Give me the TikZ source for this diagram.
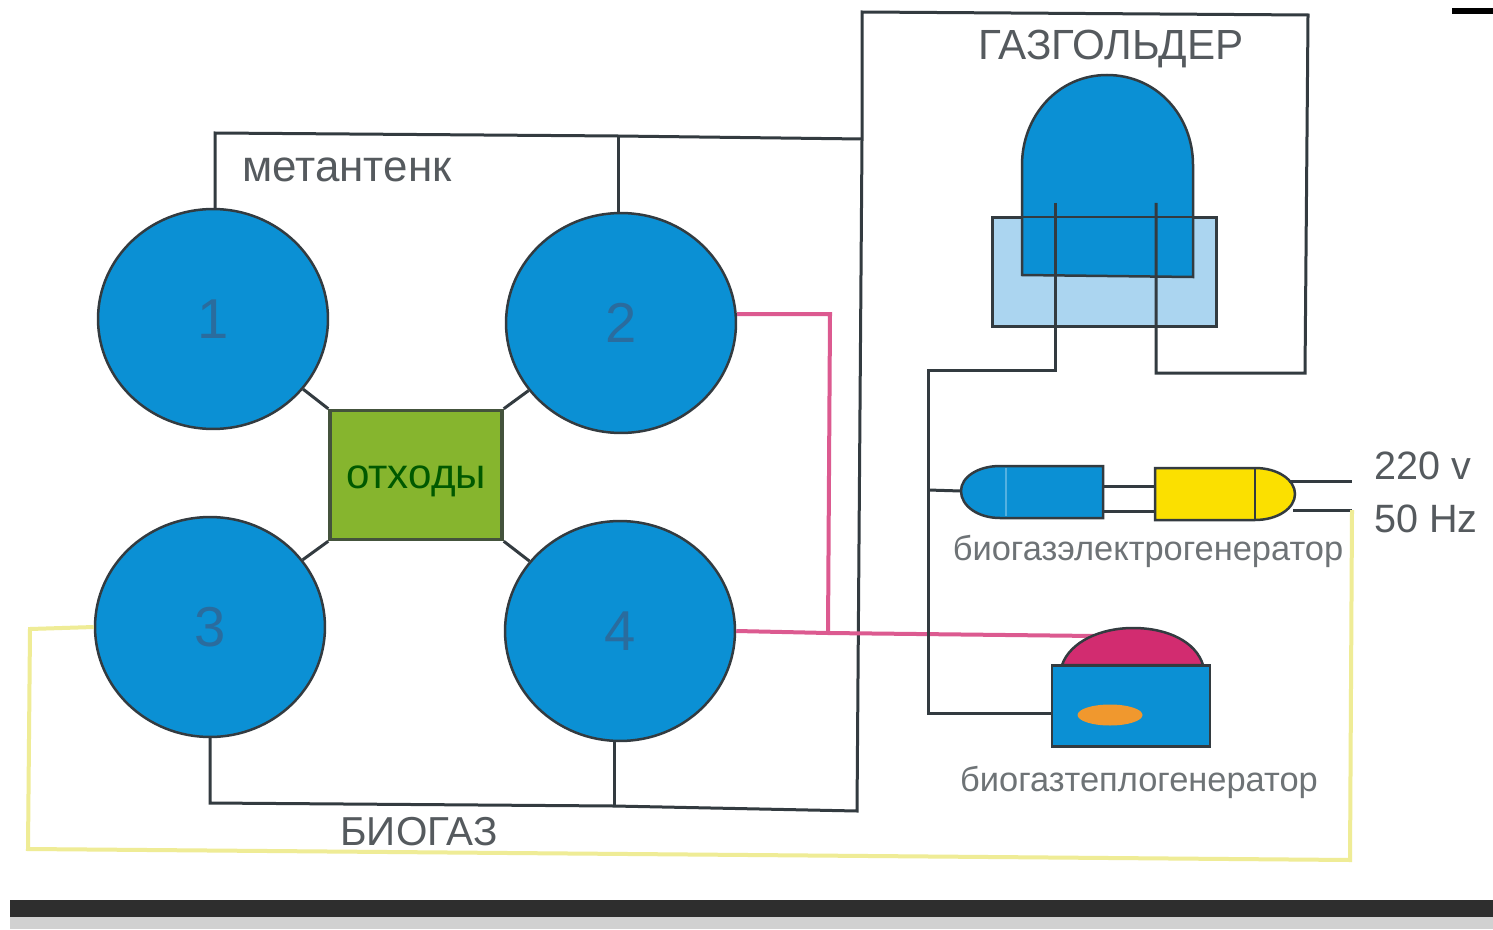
\documentclass[tikz,border=0pt]{standalone}
\usepackage{fontspec}
\setmainfont{Liberation Sans}
\usepackage{xcolor}
\usetikzlibrary{shapes.geometric}
\definecolor{tankblue}{HTML}{0B90D4}
\definecolor{waterblue}{HTML}{ABD5F0}
\definecolor{wastegreen}{HTML}{86B52E}
\definecolor{pipegray}{HTML}{333B40}
\definecolor{heatpink}{HTML}{DC5A90}
\definecolor{domepink}{HTML}{D22C70}
\definecolor{powerline}{HTML}{EFEC96}
\definecolor{genyellow}{HTML}{FBE000}
\definecolor{flameorange}{HTML}{F0982E}
\definecolor{labgray}{HTML}{555A5E}
\definecolor{numblue}{HTML}{2A6C9E}

\begin{document}
\begin{tikzpicture}[
  x=0.02cm, y=-0.02cm,
  pipe/.style={draw=pipegray, line width=0.6mm, line join=miter},
  heat/.style={draw=heatpink, line width=0.8mm, line join=miter},
  power/.style={draw=powerline, line width=0.8mm, line join=miter},
  part/.style={draw=pipegray, line width=0.5mm, fill=tankblue},
  tank/.style={ellipse, part, inner sep=0pt, minimum width=4.6cm, minimum height=4.4cm,
    text=numblue, font=\fontsize{32}{36}\selectfont},
  lab/.style={text=labgray, inner sep=0pt, font=\fontsize{23}{26}\selectfont},
  smalllab/.style={text=labgray!85, inner sep=0pt, font=\fontsize{19.6}{22}\selectfont}
]

% ===== BACKGROUND =====
\path[fill=white] (0,0) rectangle (1493,929);
\fill[black!18] (10,915) rectangle (1493,929);
\fill[black!82] (10,900) rectangle (1493,917);
\fill[black] (1452,8) rectangle (1493,14);

% ===== GASHOLDER =====
\node[draw=pipegray, line width=0.5mm, fill=waterblue, minimum width=4.46cm, minimum height=2.16cm,
  inner sep=0pt] (water) at (1104.5,272) {};
\draw[part] (1022,275) -- (1022,165) .. controls (1022,116) and (1058,75) .. (1107,75)
  .. controls (1157,75) and (1193,116) .. (1193,165) -- (1193,277) -- cycle;
\draw[draw=pipegray, line width=0.5mm] (water.north west) rectangle (water.south east);
\node[lab, font=\fontsize{24}{26}\selectfont] (holder_lab) at (1111,49) {ГАЗГОЛЬДЕР};

% ===== TANKS =====
\node[tank] (tank1) at (213,319) {1};
\node[tank] (tank2) at (621,323) {2};
\node[tank] (tank3) at (210,627) {3};
\node[tank] (tank4) at (620,631) {4};
\node[draw=pipegray!80!wastegreen, line width=0.7mm, fill=wastegreen, inner sep=0pt,
  minimum width=3.44cm, minimum height=2.58cm, text=green!35!black,
  font=\fontsize{24}{26}\selectfont] (waste) at (416,475) {\raisebox{-7.5pt}[0pt][0pt]{отходы}};
\node[lab, font=\fontsize{25}{28}\selectfont] (digester_lab) at (347,170) {метантенк};
\node[lab] (biogas_lab) at (419,832) {БИОГАЗ};

\draw[pipe] (tank1) -- (waste.north west);
\draw[pipe] (tank2) -- (waste.north east);
\draw[pipe] (tank3) -- (waste.south west);
\draw[pipe] (tank4) -- (waste.south east);

% ===== GAS PIPES =====
\coordinate (top_left) at (215,133);
\coordinate (top_joint) at (618,136);
\coordinate (top_right) at (862,139);
\coordinate (frame_a) at (862,12);
\coordinate (frame_b) at (1308,15);
\coordinate (frame_c) at (1305,373);
\coordinate (frame_d) at (1156,373);
\coordinate (frame_e) at (1156,203);
\coordinate (bot_left) at (210,803);
\coordinate (bot_joint) at (614,806);
\coordinate (bot_right) at (857,811);
\coordinate (out_a) at (1055,203);
\coordinate (out_b) at (1055,370);
\coordinate (out_c) at (928,370);
\coordinate (out_joint) at (928,490);
\coordinate (out_d) at (928,713);

\draw[pipe] (tank1.north -| top_left) -- (top_left) -- (top_joint) -- (top_right);
\draw[pipe] (tank2.north -| top_joint) -- (top_joint);
\draw[pipe] (tank3.south) -- (bot_left) -- (bot_joint) -- (bot_right) -- (top_right)
  -- (frame_a) -- (frame_b) -- (frame_c) -- (frame_d) -- (frame_e);
\draw[pipe] (tank4.south -| bot_joint) -- (bot_joint);

% ===== ELECTRIC GENERATOR =====
\draw[part] (1103,466) -- (1103,518) -- (1000,518) .. controls (978,518) and (961,506) .. (961,491)
  .. controls (961,477) and (978,466) .. (1000,466) -- cycle;
\coordinate (engine_in) at (961,491);
\draw[draw=tankblue!70!white, line width=0.4mm] (1006,468) -- (1006,516);
\draw[part, fill=genyellow] (1155,468) -- (1255,468) .. controls (1278,468) and (1295,480) .. (1295,494)
  .. controls (1295,508) and (1278,520) .. (1255,520) -- (1155,520) -- cycle;
\draw[draw=pipegray, line width=0.4mm] (1255,468) -- (1255,520);
\coordinate (gen_out_a) at (1289,481);
\coordinate (gen_out_b) at (1293,510);
\coordinate (mains_a) at (1352,481);
\coordinate (mains_b) at (1352,510);
\draw[pipe] (1103,486) -- (1155,486);
\draw[pipe] (1103,511) -- (1155,511);
\draw[pipe] (gen_out_a) -- (mains_a);
\draw[pipe] (gen_out_b) -- (mains_b);
\node[smalllab] (elgen_lab) at (1148,551) {биогазэлектрогенератор};
\node[lab, anchor=west, font=\fontsize{22.5}{24}\selectfont] (volt_lab) at (1374,466) {220 v};
\node[lab, anchor=west, font=\fontsize{22.5}{24}\selectfont] (freq_lab) at (1374,519) {50 Hz};

% ===== HEAT GENERATOR =====
\coordinate (heat_joint) at (828,633);
\coordinate (heat_bend) at (830,314);
\coordinate (heat_in) at (1095,636);
\draw[heat] (tank2.east |- heat_bend) -- (heat_bend) -- (heat_joint);
\draw[heat] (tank4.east) -- (heat_joint) -- (heat_in);
\draw[part, fill=domepink] (1062,665) .. controls (1070,642) and (1100,628) .. (1133,628)
  .. controls (1168,628) and (1196,642) .. (1203,665) -- cycle;
\node[part, rectangle, inner sep=0pt, minimum width=3.16cm, minimum height=1.62cm] (burner) at (1131,706) {};
\node[ellipse, fill=flameorange, inner sep=0pt, minimum width=1.3cm, minimum height=0.42cm] (flame) at (1110,715) {};
\node[smalllab] (heatgen_lab) at (1139,782) {биогазтеплогенератор};

\draw[pipe] (out_a) -- (out_b) -- (out_c) -- (out_d) -- (burner.west |- out_d);
\draw[pipe] (out_joint) -- (engine_in);

% ===== POWER LINE =====
\coordinate (line_a) at (30,629);
\coordinate (line_b) at (28,849);
\coordinate (line_c) at (1350,860);
\draw[power] (tank3.west) -- (line_a) -- (line_b) -- (line_c) -- (mains_b);

\end{tikzpicture}
\end{document}
